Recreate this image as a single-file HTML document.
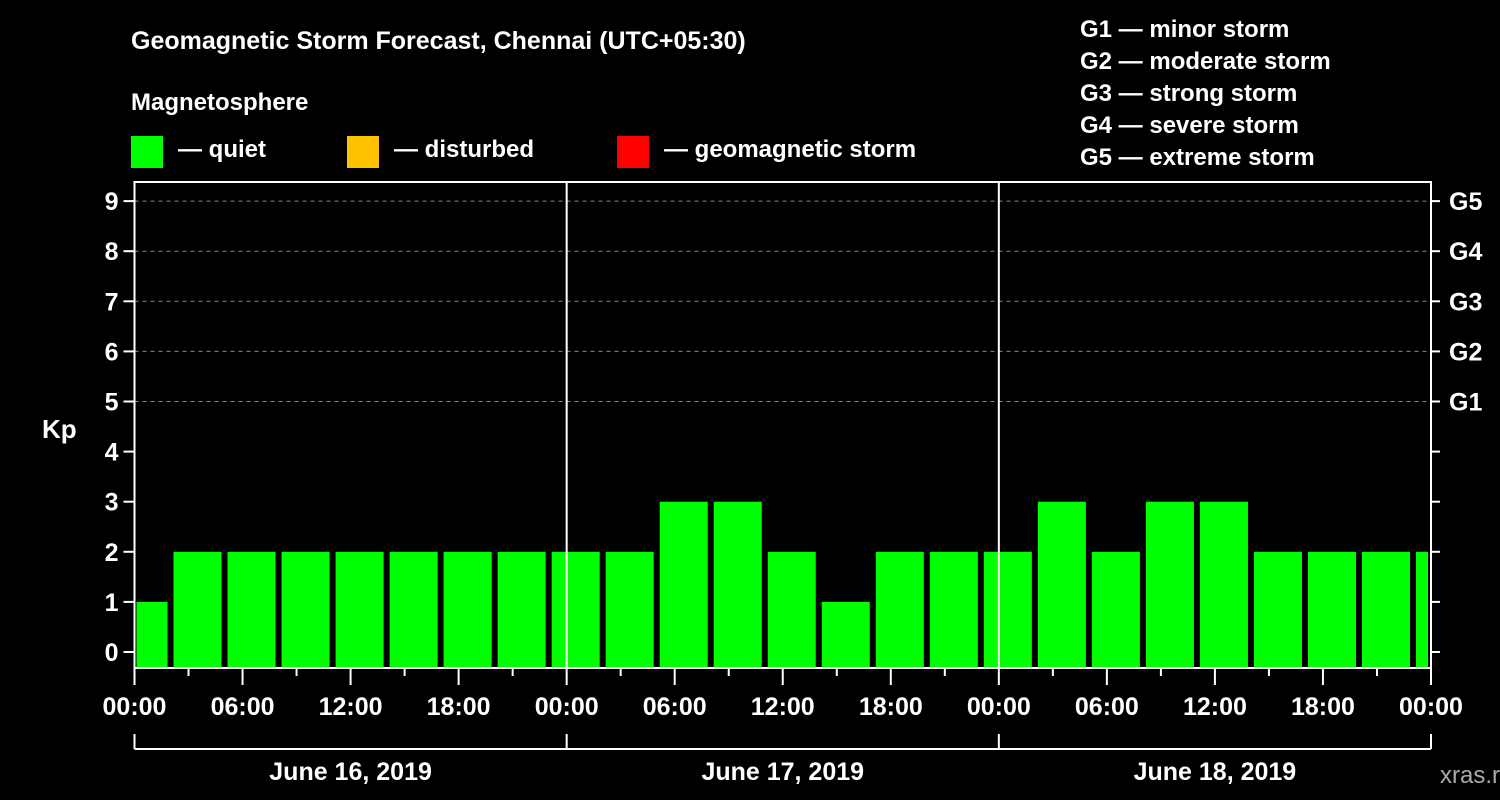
<!DOCTYPE html>
<html><head><meta charset="utf-8"><style>
html,body{margin:0;padding:0;background:#000;width:1500px;height:800px;overflow:hidden}
svg text{font-family:"Liberation Sans",Arial,sans-serif;font-weight:bold;fill:#fff}
</style></head><body>
<svg id="chart" width="1500" height="800" xmlns="http://www.w3.org/2000/svg">
<rect width="1500" height="800" fill="#000"/>
<text x="131" y="49" font-size="25">Geomagnetic Storm Forecast, Chennai (UTC+05:30)</text>
<text x="131" y="110" font-size="24">Magnetosphere</text>
<g><rect x="131" y="136" width="32" height="32" fill="#00ff00"/><text x="178" y="157" font-size="24">— quiet</text></g>
<g><rect x="347" y="136" width="32" height="32" fill="#ffc000"/><text x="394" y="157" font-size="24">— disturbed</text></g>
<g><rect x="617" y="136" width="32" height="32" fill="#ff0000"/><text x="664" y="157" font-size="24">— geomagnetic storm</text></g>
<g font-size="24">
<text x="1080" y="37">G1 — minor storm</text>
<text x="1080" y="69">G2 — moderate storm</text>
<text x="1080" y="101">G3 — strong storm</text>
<text x="1080" y="133">G4 — severe storm</text>
<text x="1080" y="165">G5 — extreme storm</text>
</g>
<text x="42" y="438" font-size="26">Kp</text>
<text x="1440" y="783" font-size="24" fill="#999" style="fill:#aaa;font-weight:normal">xras.ru</text>
<g id="plot"></g>
</svg>
<script>
const kpValues=[1,2,2,2,2,2,2,2,2,2,3,3,2,1,2,2,2,3,2,3,3,2,2,2,2];
const barStartHours=[-1,2,5,8,11,14,17,20,23,26,29,32,35,38,41,44,47,50,53,56,59,62,65,68,71];
const dayLabels=["June 16, 2019","June 17, 2019","June 18, 2019"];
const hourLabels=["00:00","06:00","12:00","18:00"];
const gLabels=["G1","G2","G3","G4","G5"];
const NS="http://www.w3.org/2000/svg";
const X0=134.5,X1=1431,Y0=652,PERU=50.1,TOP=182,BOT=668;
const xs=h=>X0+(X1-X0)*h/72;
const ys=v=>Y0-v*PERU;
const g=document.getElementById('plot');
function mk(t,a){const e=document.createElementNS(NS,t);for(const k in a)e.setAttribute(k,a[k]);g.appendChild(e);return e;}
// gridlines
for(let v=5;v<=9;v++){const l=mk('line',{x1:X0,x2:X1,y1:ys(v),y2:ys(v),stroke:'#888','stroke-dasharray':'4,4','stroke-width':1});

}
// bars
kpValues.forEach((v,i)=>{
 let a=xs(barStartHours[i])+3,b=xs(barStartHours[i]+3)-3;
 a=Math.max(a,X0+2);b=Math.min(b,X1-3);
 const c=v>=5?'#ff0000':(v>=4?'#ffc000':'#00ff00');
 const r=mk('rect',{x:a,y:ys(v),width:b-a,height:BOT-1-ys(v),fill:c});
 
 
});
// day separators
[24,48].forEach(h=>{const l=mk('line',{x1:xs(h),x2:xs(h),y1:TOP,y2:BOT,stroke:'#fff','stroke-width':2});

});
// frame
const f=mk('rect',{x:X0,y:TOP,width:X1-X0,height:BOT-TOP,fill:'none',stroke:'#fff','stroke-width':2});


// y ticks
for(let v=0;v<=9;v++){
 mk('line',{x1:X0-11,x2:X0,y1:ys(v),y2:ys(v),stroke:'#fff','stroke-width':2});
 mk('line',{x1:X1,x2:X1+9,y1:ys(v),y2:ys(v),stroke:'#fff','stroke-width':2});
 const t=mk('text',{x:X0-16,y:ys(v)+9,'font-size':25,'text-anchor':'end'});t.textContent=v;
 
 
}
gLabels.forEach((s,i)=>{const t=mk('text',{x:1449,y:ys(i+5)+9,'font-size':25});t.textContent=s;

});
// x ticks
for(let h=0;h<=72;h+=3){const maj=h%6===0;mk('line',{x1:xs(h),x2:xs(h),y1:BOT,y2:BOT+(maj?17:8),stroke:'#fff','stroke-width':2});}
for(let h=0;h<=72;h+=6){const t=mk('text',{x:xs(h),y:715,'font-size':25,'text-anchor':'middle'});t.textContent=hourLabels[(h/6)%4];

}
// bracket
mk('line',{x1:X0,x2:X1,y1:749,y2:749,stroke:'#fff','stroke-width':2});
[0,24,48,72].forEach(h=>mk('line',{x1:xs(h),x2:xs(h),y1:734,y2:749,stroke:'#fff','stroke-width':2}));
dayLabels.forEach((d,i)=>{const t=mk('text',{x:xs(i*24+12),y:780,'font-size':25,'text-anchor':'middle'});t.textContent=d;

});
</script>
</body></html>
